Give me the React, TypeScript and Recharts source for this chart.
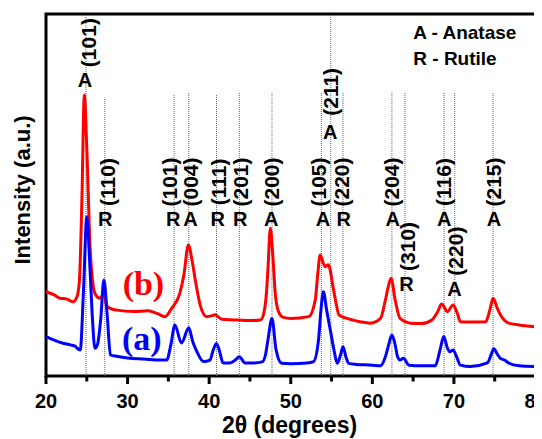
import React from 'react';
import {
  ComposedChart,
  Line,
  XAxis,
  YAxis,
  ReferenceLine,
  ReferenceDot,
  ReferenceArea,
} from 'recharts';

// 2θ (deg), intensity (a.u.) — sample (a), blue
const sampleA: number[][] = [
  [20, 10.9], [21, 9.9], [22, 9.1], [23, 8.6], [23.6, 8.2], [23.8, 7.7], [24.2, 7.2],
  [24.6, 23.8], [25.0, 44.0], [25.4, 29.3], [25.7, 15.5], [26.0, 7.7], [26.3, 8.6],
  [26.7, 15.5], [27.1, 26.5], [27.5, 16.9], [27.9, 5.8], [28.5, 5.5], [30, 5.0],
  [32, 4.7], [34, 4.4], [34.8, 4.4], [35.3, 8.6], [35.8, 14.1], [36.6, 9.1],
  [37.5, 13.3], [38.0, 9.4], [38.5, 6.7], [39.3, 4.0], [40.1, 4.4], [40.5, 7.2],
  [40.9, 9.0], [41.3, 6.6], [41.7, 3.6], [42.5, 3.6], [43.2, 4.4], [43.7, 5.3],
  [44.4, 3.6], [45.5, 3.6], [46.5, 3.9], [46.9, 5.8], [47.2, 9.9], [47.7, 15.9],
  [48.2, 7.2], [48.9, 3.5], [50, 3.4], [52, 3.6], [52.8, 4.0], [53.4, 9.9],
  [53.7, 18.2], [54.0, 23.3], [54.4, 18.2], [54.85, 12.7], [55.3, 7.2], [55.7, 3.5],
  [56.1, 5.8], [56.4, 8.1], [56.8, 5.0], [57.1, 3.5], [58, 3.2], [60, 3.0], [61, 2.8],
  [61.6, 5.3], [62.0, 8.6], [62.4, 11.3], [62.8, 8.6], [63.1, 5.3], [63.4, 4.4],
  [63.8, 4.9], [64.5, 3.0], [66, 2.8], [67.7, 2.8], [68.3, 7.2], [68.75, 10.9],
  [69.2, 7.7], [69.5, 6.7], [69.9, 7.2], [70.3, 5.5], [70.8, 3.0], [72, 2.6],
  [74.1, 3.6], [74.5, 5.5], [74.9, 7.5], [75.3, 6.1], [75.7, 4.9], [76.2, 4.4],
  [76.7, 3.6], [78, 2.8], [80, 2.6],
];

// sample (b), red
const sampleB: number[][] = [
  [20, 23.3], [21, 22.4], [21.7, 21.5], [22.5, 21.3], [23.3, 20.5], [23.8, 21.9],
  [24.1, 26.5], [24.4, 48.6], [24.7, 77.6], [25.0, 63.0], [25.4, 35.7], [25.7, 26.5],
  [26.0, 22.8], [26.6, 21.5], [27.15, 22.8], [27.4, 19.6], [27.85, 18.7], [28.7, 18.2],
  [30.7, 17.8], [32.5, 18.0], [33.6, 17.3], [34.6, 16.4], [35.4, 18.7], [36.4, 22.8],
  [36.9, 27.9], [37.45, 36.2], [37.9, 32.0], [38.3, 26.5], [38.9, 19.6], [39.7, 16.4],
  [40.3, 16.6], [40.7, 16.9], [41.55, 15.7], [43, 15.5], [45, 15.3], [46.3, 15.5],
  [46.7, 17.4], [47.0, 22.4], [47.2, 29.3], [47.5, 40.8], [47.8, 33.4], [48.1, 22.8],
  [48.5, 17.8], [49.1, 16.2], [50, 15.9], [52.2, 16.4], [53.0, 21.0], [53.3, 27.9],
  [53.6, 33.4], [54.2, 30.2], [54.6, 30.7], [55.25, 23.8], [55.6, 19.6], [55.9, 16.9],
  [56.9, 15.9], [58.5, 15.0], [59.75, 14.6], [61.0, 15.9], [61.6, 21.0], [62.0, 25.1],
  [62.3, 27.0], [62.8, 21.0], [63.4, 15.9], [64.7, 14.6], [66, 14.5], [67.3, 15.5],
  [68.0, 17.7], [68.5, 19.9], [69.2, 17.8], [69.9, 19.6], [70.4, 17.4], [70.8, 15.0],
  [72, 14.9], [73.9, 15.0], [74.4, 18.2], [74.8, 21.5], [75.3, 18.8], [75.7, 16.9],
  [76.7, 14.6], [78, 14.1], [80, 13.6],
];

const xTicks = [20, 25, 30, 35, 40, 45, 50, 55, 60, 65, 70, 75, 80];

// dotted reference lines: position (2θ) and top (intensity units)
const peakLines = [
  { t: 24.9, top: 100 }, { t: 27.2, top: 76.9 }, { t: 35.7, top: 77.6 },
  { t: 37.5, top: 78.2 }, { t: 40.9, top: 77.6 }, { t: 43.7, top: 78.2 },
  { t: 47.7, top: 78.2 }, { t: 53.75, top: 78.2 }, { t: 54.9, top: 100 },
  { t: 56.4, top: 78.2 }, { t: 62.4, top: 78.5 }, { t: 64.0, top: 78.5 },
  { t: 68.8, top: 78.2 }, { t: 70.1, top: 78.5 }, { t: 74.8, top: 78.2 },
];

// phase letters (centre positions)
const phaseLabels = [
  { t: 24.79, v: 81.8, text: 'A' }, { t: 27.25, v: 43.4, text: 'R' },
  { t: 35.6, v: 43.4, text: 'R' }, { t: 37.7, v: 43.4, text: 'A' },
  { t: 41.05, v: 43.4, text: 'R' }, { t: 43.8, v: 43.4, text: 'R' },
  { t: 47.6, v: 43.4, text: 'A' }, { t: 53.95, v: 43.4, text: 'A' },
  { t: 56.5, v: 43.4, text: 'R' }, { t: 62.5, v: 43.4, text: 'A' },
  { t: 68.8, v: 43.4, text: 'A' }, { t: 74.9, v: 43.4, text: 'A' },
  { t: 54.85, v: 67.3, text: 'A' }, { t: 64.2, v: 25.4, text: 'R' },
  { t: 70.06, v: 24.0, text: 'A' },
];

// Miller indices (rotated, centre positions)
const hklLabels = [
  { t: 25.15, v: 92.1, text: '(101)' }, { t: 27.55, v: 53.6, text: '(110)' },
  { t: 35.1, v: 53.6, text: '(101)' }, { t: 37.76, v: 53.6, text: '(004)' },
  { t: 41.1, v: 53.6, text: '(111)' }, { t: 43.9, v: 53.6, text: '(201)' },
  { t: 47.7, v: 53.6, text: '(200)' }, { t: 53.4, v: 53.6, text: '(105)' },
  { t: 56.2, v: 53.6, text: '(220)' }, { t: 62.3, v: 53.6, text: '(204)' },
  { t: 68.77, v: 53.6, text: '(116)' }, { t: 74.8, v: 53.6, text: '(215)' },
  { t: 54.85, v: 78.5, text: '(211)' }, { t: 64.35, v: 35.8, text: '(310)' },
  { t: 70.2, v: 34.5, text: '(220)' },
];

const curveLabels = [
  { t: 31.94, v: 22.4, text: '(b)', color: '#ff0000' },
  { t: 31.74, v: 7.3, text: '(a)', color: '#0000ff' },
];

const legendLabels = [
  { t: 65.02, v: 93.2, text: 'A - Anatase' },
  { t: 65.02, v: 85.9, text: 'R - Rutile' },
];

const xTitle = { t: 49.85, v: -15.7, text: '2θ (degrees)' };
const yTitle = { t: 17.1, v: 51.4, text: 'Intensity (a.u.)' };

const toPts = (arr: number[][]) => arr.map(([t, i]) => ({ t, i }));
const dataA = toPts(sampleA);
const dataB = toPts(sampleB);

const SANS = '"Liberation Sans", Arial, Helvetica, sans-serif';
const SERIF = '"Liberation Serif", "Times New Roman", serif';

const at = (render: (x: number, y: number) => React.ReactNode) => (props: any) => {
  const vb = props && props.viewBox ? props.viewBox : {};
  const x = (vb.x ?? 0) + (vb.width ?? 0) / 2;
  const y = (vb.y ?? 0) + (vb.height ?? 0) / 2;
  return <g>{render(x, y)}</g>;
};

const renderTick = (props: any) => {
  const { x, y, payload } = props;
  const v = payload.value as number;
  const major = v % 10 === 0;
  const y0 = y - 19;
  return (
    <g>
      <line x1={x} x2={x} y1={y0} y2={y0 + (major ? 8 : 5.5)} stroke="#000" strokeWidth={3} />
      {major && (
        <text
          x={x}
          y={y0 + 32}
          textAnchor="middle"
          fontFamily={SANS}
          fontWeight="bold"
          fontSize={20}
          fill="#000"
        >
          {v}
        </text>
      )}
    </g>
  );
};

export default function App() {
  return (
    <ComposedChart
      width={534}
      height={431}
      margin={{ top: 6, right: 6.5, bottom: 0, left: 38 }}
    >
      <XAxis
        dataKey="t"
        type="number"
        domain={[20, 80]}
        ticks={xTicks}
        interval={0}
        allowDataOverflow
        axisLine={false}
        tickLine={false}
        tickSize={8}
        tickMargin={11}
        height={63}
        tick={renderTick}
      />
      <YAxis type="number" domain={[0, 100]} hide allowDataOverflow />

      {peakLines.map((p, k) => (
        <ReferenceLine
          key={'l' + k}
          segment={[{ x: p.t, y: 0 }, { x: p.t, y: p.top }]}
          stroke="#555"
          strokeWidth={0.9}
          strokeDasharray="1 1"
          ifOverflow="visible"
        />
      ))}

      <Line
        data={dataB}
        dataKey="i"
        type="monotone"
        stroke="#ff0000"
        strokeWidth={3}
        dot={false}
        activeDot={false}
        isAnimationActive={false}
      />
      <Line
        data={dataA}
        dataKey="i"
        type="monotone"
        stroke="#0000ff"
        strokeWidth={3}
        dot={false}
        activeDot={false}
        isAnimationActive={false}
      />

      <ReferenceArea
        x1={20}
        x2={80}
        y1={0}
        y2={100}
        fill="none"
        fillOpacity={0}
        stroke="#000"
        strokeWidth={3}
        ifOverflow="visible"
      />

      {phaseLabels.map((d, k) => (
        <ReferenceDot
          key={'p' + k}
          x={d.t}
          y={d.v}
          r={0}
          fill="none"
          stroke="none"
          ifOverflow="visible"
          label={at((x, y) => (
            <text x={x} y={y} textAnchor="middle" dominantBaseline="central"
              fontFamily={SANS} fontWeight="bold" fontSize={20} fill="#000">
              {d.text}
            </text>
          ))}
        />
      ))}

      {hklLabels.map((d, k) => (
        <ReferenceDot
          key={'h' + k}
          x={d.t}
          y={d.v}
          r={0}
          fill="none"
          stroke="none"
          ifOverflow="visible"
          label={at((x, y) => (
            <text x={x} y={y} transform={`rotate(-90 ${x} ${y})`} textAnchor="middle"
              dominantBaseline="central" fontFamily={SANS} fontWeight="bold"
              fontSize={21} fill="#000">
              {d.text}
            </text>
          ))}
        />
      ))}

      {curveLabels.map((d, k) => (
        <ReferenceDot
          key={'c' + k}
          x={d.t}
          y={d.v}
          r={0}
          fill="none"
          stroke="none"
          ifOverflow="visible"
          label={at((x, y) => (
            <text x={x} y={y} textAnchor="middle" fontFamily={SERIF} fontWeight="bold"
              fontSize={34} fill={d.color}>
              {d.text}
            </text>
          ))}
        />
      ))}

      {legendLabels.map((d, k) => (
        <ReferenceDot
          key={'g' + k}
          x={d.t}
          y={d.v}
          r={0}
          fill="none"
          stroke="none"
          ifOverflow="visible"
          label={at((x, y) => (
            <text x={x} y={y} textAnchor="start" fontFamily={SANS} fontWeight="bold"
              fontSize={19} fill="#000">
              {d.text}
            </text>
          ))}
        />
      ))}

      <ReferenceDot
        x={xTitle.t}
        y={xTitle.v}
        r={0}
        fill="none"
        stroke="none"
        ifOverflow="visible"
        label={at((x, y) => (
          <text x={x} y={y} textAnchor="middle" fontFamily={SANS} fontWeight="bold"
            fontSize={23} fill="#000">
            {xTitle.text}
          </text>
        ))}
      />
      <ReferenceDot
        x={yTitle.t}
        y={yTitle.v}
        r={0}
        fill="none"
        stroke="none"
        ifOverflow="visible"
        label={at((x, y) => (
          <text x={x} y={y} transform={`rotate(-90 ${x} ${y})`} textAnchor="middle"
            dominantBaseline="central" fontFamily={SANS} fontWeight="bold"
            fontSize={22} fill="#000">
            {yTitle.text}
          </text>
        ))}
      />
    </ComposedChart>
  );
}
